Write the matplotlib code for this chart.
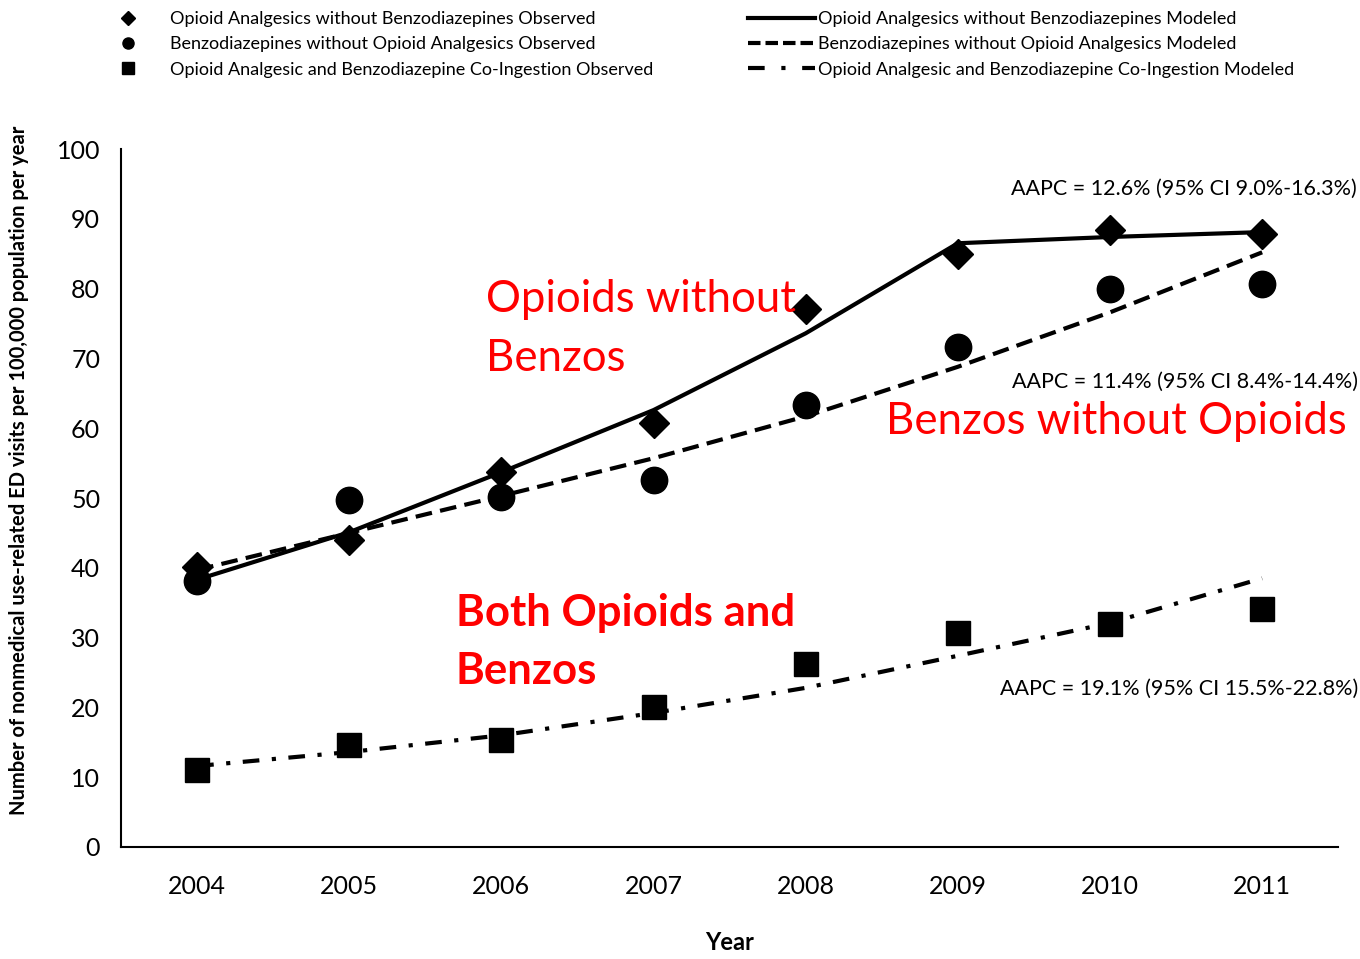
import matplotlib
matplotlib.use("Agg")
import matplotlib.pyplot as plt
from matplotlib.lines import Line2D

plt.rcParams['font.family'] = ['Lato', 'DejaVu Sans']

# ---- data ----
years = [2004, 2005, 2006, 2007, 2008, 2009, 2010, 2011]

opioid_obs = [40.1, 44.0, 53.7, 60.7, 77.1, 85.0, 88.4, 87.8]
opioid_mod = [38.3, 45.1, 53.7, 62.6, 73.6, 86.5, 87.4, 88.1]

benzo_obs = [38.1, 49.7, 50.1, 52.6, 63.3, 71.6, 79.9, 80.7]
benzo_mod = [39.7, 45.0, 50.3, 55.7, 61.7, 68.8, 76.6, 85.2]

both_obs = [11.0, 14.6, 15.3, 20.1, 26.2, 30.7, 31.9, 34.1]
both_mod = [11.6, 13.6, 16.0, 19.2, 22.8, 27.4, 32.1, 38.5]

yticks = [0, 10, 20, 30, 40, 50, 60, 70, 80, 90, 100]

aapc_texts = ["AAPC = 12.6% (95% CI 9.0%-16.3%)",
              "AAPC = 11.4% (95% CI 8.4%-14.4%)",
              "AAPC = 19.1% (95% CI 15.5%-22.8%)"]

obs_labels = ["Opioid Analgesics without Benzodiazepines Observed",
              "Benzodiazepines without Opioid Analgesics Observed",
              "Opioid Analgesic and Benzodiazepine Co-Ingestion Observed"]
mod_labels = ["Opioid Analgesics without Benzodiazepines Modeled",
              "Benzodiazepines without Opioid Analgesics Modeled",
              "Opioid Analgesic and Benzodiazepine Co-Ingestion Modeled"]

# ---- figure ----
fig = plt.figure(figsize=(13.6, 9.59), dpi=100)
ax = fig.add_axes([0.089, 0.1168, 0.895, 0.7278])

dash_style = (0, (4, 2))
dashdot_style = (0, (4, 3, 1, 3))

ax.plot(years, opioid_mod, color='black', lw=3, solid_capstyle='butt')
ax.plot(years, benzo_mod, color='black', lw=3, linestyle=dash_style)
ax.plot(years, both_mod, color='black', lw=3, linestyle=dashdot_style)

ax.plot(years, opioid_obs, 'D', color='black', ms=15, linestyle='none')
ax.plot(years, benzo_obs, 'o', color='black', ms=19, linestyle='none')
ax.plot(years, both_obs, 's', color='black', ms=17, linestyle='none')

ax.set_xlim(2003.5, 2011.5)
ax.set_ylim(0, 100)
ax.set_xticks(years)
ax.set_yticks(yticks)
ax.tick_params(axis='both', length=0, labelsize=18)
ax.tick_params(axis='x', pad=20)
ax.tick_params(axis='y', pad=15)
for s in ['top', 'right']:
    ax.spines[s].set_visible(False)
for s in ['left', 'bottom']:
    ax.spines[s].set_linewidth(1.5)

ax.set_xlabel("Year", fontsize=17, fontweight='bold', labelpad=24)
ax.set_ylabel("Number of nonmedical use-related ED visits per 100,000 population per year",
              fontsize=14.5, fontweight='bold')
ax.yaxis.set_label_coords(-0.076, 0.539)

# AAPC annotations
ax.text(2011.62, 94.3, aapc_texts[0], fontsize=15.5, ha='right', va='center', clip_on=False)
ax.text(2011.63, 66.6, aapc_texts[1], fontsize=15.5, ha='right', va='center', clip_on=False)
ax.text(2011.63, 22.7, aapc_texts[2], fontsize=15.5, ha='right', va='center', clip_on=False)

# red series labels
ax.text(2005.9, 74.2, "Opioids without\nBenzos", color='red', fontsize=31.5,
        ha='left', va='center', linespacing=1.55)
ax.text(2008.53, 61.0, "Benzos without Opioids", color='red', fontsize=31.5,
        ha='left', va='center')
ax.text(2005.7, 29.4, "Both Opioids and\nBenzos", color='red', fontsize=31.5,
        fontweight='bold', ha='left', va='center', linespacing=1.55)

# legends
obs_handles = [
    Line2D([], [], marker='D', color='black', ms=7, linestyle='none'),
    Line2D([], [], marker='o', color='black', ms=8, linestyle='none'),
    Line2D([], [], marker='s', color='black', ms=8, linestyle='none'),
]
mod_handles = [
    Line2D([], [], color='black', lw=3),
    Line2D([], [], color='black', lw=3, linestyle=(0, (3, 1.2))),
    Line2D([], [], color='black', lw=3, linestyle=(0, (4, 4, 1, 4))),
]
leg1 = fig.legend(obs_handles, obs_labels, loc='upper left', bbox_to_anchor=(0.069, 1.005),
                  frameon=False, fontsize=13, handlelength=2.0, handletextpad=1.3,
                  labelspacing=0.5)
leg2 = fig.legend(mod_handles, mod_labels, loc='upper left', bbox_to_anchor=(0.538, 1.005),
                  frameon=False, fontsize=13, handlelength=3.7, handletextpad=0.2,
                  labelspacing=0.5)

fig.savefig("out.png", dpi=100)
